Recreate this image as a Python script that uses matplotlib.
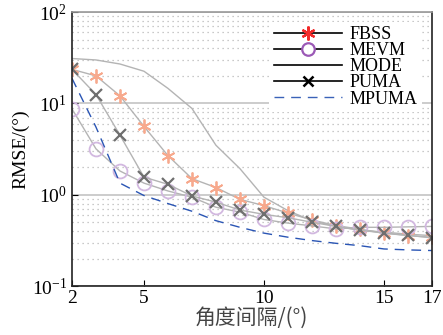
import numpy as np
import matplotlib
matplotlib.use("Agg")
import matplotlib.pyplot as plt
from matplotlib.lines import Line2D

# 角度间隔 (°)
spacing = [2, 3, 4, 5, 6, 7, 8, 9, 10, 11, 12, 13, 14, 15, 16, 17]

# RMSE (°)
fbss = [23.6, 20.0, 12.1, 5.6, 2.68, 1.5, 1.2, 0.89, 0.76, 0.63, 0.53, 0.46, 0.42, 0.38, 0.357, 0.343]
mevm = [8.7, 3.18, 1.82, 1.34, 1.10, 0.94, 0.73, 0.645, 0.536, 0.489, 0.456, 0.423, 0.44, 0.44, 0.445, 0.45]
mode = [31.0, 29.9, 27.0, 22.5, 14.6, 8.8, 3.48, 1.93, 0.94, 0.67, 0.52, 0.45, 0.41, 0.39, 0.37, 0.357]
puma = [23.6, 12.5, 4.49, 1.56, 1.30, 0.97, 0.83, 0.68, 0.61, 0.56, 0.50, 0.45, 0.41, 0.38, 0.36, 0.337]
mpuma = [18.8, 5.5, 1.34, 0.98, 0.80, 0.66, 0.52, 0.44, 0.38, 0.343, 0.315, 0.294, 0.277, 0.255, 0.249, 0.245]

x_ticks = [2, 5, 10, 15, 17]

plt.rcParams["font.family"] = ["Liberation Serif", "Noto Sans CJK SC"]
plt.rcParams["mathtext.fontset"] = "stix"

fig = plt.figure(figsize=(4.43, 3.35), dpi=100)
ax = fig.add_axes([0.1625, 0.146, 0.8125, 0.818])

line_gray = "#b4b4b4"
star = (6, 2, 0)

# 网格
ax.set_yscale("log")
ax.set_xlim(2, 17)
ax.set_ylim(0.1, 100)
ax.yaxis.grid(True, which="minor", linestyle=(0, (1, 3)), color="#b8b8b8", linewidth=0.9)
ax.yaxis.grid(True, which="major", linestyle="-", color="#c4c4c4", linewidth=1.2)
ax.set_axisbelow(True)

ax.plot(spacing, mode, color=line_gray, lw=1.0)
ax.plot(spacing, fbss, color=line_gray, lw=1.0, marker=star, ms=10, mec="#f7a98d", mew=1.3)
ax.plot(spacing, mevm, color=line_gray, lw=1.0, marker="o", ms=10, mfc="none", mec="#d2b8e0", mew=1.3)
ax.plot(spacing, puma, color=line_gray, lw=1.0, marker="x", ms=8, mec="#6f6f6f", mew=1.6)
ax.plot(spacing, mpuma, color="#2a55b4", lw=1.0, ls=(0, (7, 5)))

ax.set_xticks(x_ticks)
ax.set_xticklabels([str(v) for v in x_ticks])
ax.tick_params(axis="both", which="both", direction="in", labelsize=14)
ax.tick_params(axis="x", which="major", length=4, pad=3)
ax.tick_params(axis="y", which="major", length=4)
ax.tick_params(axis="y", which="minor", length=0)
for s in ax.spines.values():
    s.set_color("#222222")
    s.set_linewidth(1.2)
ax.spines["top"].set_color("#999999")

ax.set_xlabel("角度间隔/(°)", fontsize=15, family=["Noto Sans CJK SC", "DejaVu Sans"],
              labelpad=0, color="#444444")
ax.set_ylabel("RMSE/(°)", fontsize=14, labelpad=2)

handles = [
    Line2D([], [], color="k", lw=1.2, marker=star, ms=10, mec="#f22a2a", mew=1.6),
    Line2D([], [], color="k", lw=1.2, marker="o", ms=9, mfc="white", mec="#9b59b6", mew=1.6),
    Line2D([], [], color="k", lw=1.2),
    Line2D([], [], color="k", lw=1.2, marker="x", ms=7, mec="k", mew=1.8),
    Line2D([], [], color="#3a62b8", lw=1.0, ls=(0, (7, 5))),
]
labels = ["FBSS", "MEVM", "MODE", "PUMA", "MPUMA"]
leg = ax.legend(handles, labels, loc="upper right", bbox_to_anchor=(0.998, 0.998),
                fontsize=13, frameon=True, fancybox=False, edgecolor="none",
                facecolor="white", framealpha=1, handlelength=3.8, handletextpad=0.4,
                labelspacing=-0.05, borderpad=0.25)

fig.savefig("out.png", dpi=100)
